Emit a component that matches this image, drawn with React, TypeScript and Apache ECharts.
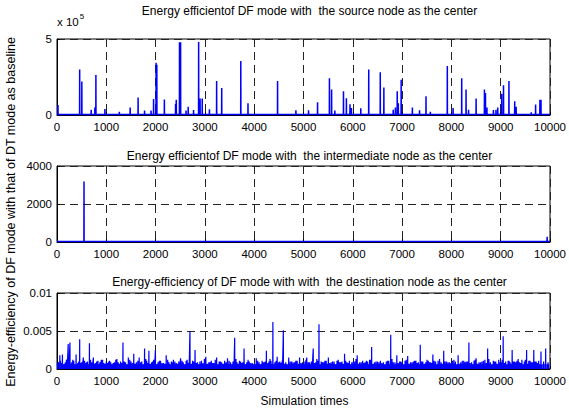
import React, { useEffect, useRef } from "react";
import * as echarts from "echarts";

const titles = [
  "Energy efficientof DF mode with  the source node as the center",
  "Energy efficientof DF mode with  the intermediate node as the center",
  "Energy-efficiency of DF mode with with  the destination node as the center",
];
const yLabel = "Energy-efficiency of DF mode with that of DT mode as baseline";
const xLabel = "Simulation times";

// Subplot 1 (values in units of 1e5)
const sourceX = [20, 460, 504, 694, 768, 789, 972, 1265, 1484, 1645, 1776, 1908, 1959, 2010, 2025, 2178, 2405, 2420, 2485, 2507, 2617, 2661, 2770, 2873, 2902, 2946, 3092, 3238, 3341, 3728, 3874, 4474, 4846, 5102, 5285, 5526, 5570, 5636, 5811, 5870, 5943, 5972, 6162, 6323, 6557, 6630, 6820, 6864, 6901, 6923, 6981, 7208, 7354, 7485, 7573, 7917, 8034, 8209, 8297, 8348, 8501, 8670, 8691, 8721, 8852, 8904, 8940, 9020, 9057, 9167, 9284, 9313, 9620, 9708, 9795, 9817];
const sourceY = [0.66, 2.99, 2.21, 0.35, 0.49, 2.63, 0.4, 0.22, 0.5, 1.15, 0.29, 0.29, 1.06, 3.43, 3.3, 1.02, 0.73, 1.0, 4.78, 4.78, 0.29, 0.55, 0.33, 4.8, 1.08, 1.08, 0.38, 2.23, 1.77, 3.56, 0.77, 2.23, 0.31, 0.31, 0.84, 2.41, 1.68, 0.3, 1.57, 1.1, 0.71, 0.46, 0.44, 2.99, 2.81, 1.81, 0.35, 0.5, 1.57, 0.77, 2.32, 0.5, 0.31, 1.24, 0.22, 3.23, 0.46, 2.41, 1.68, 0.35, 1.08, 1.68, 1.44, 0.5, 0.33, 0.35, 0.5, 1.39, 1.95, 2.23, 0.91, 0.55, 0.18, 0.69, 1.0, 1.0];
const sourceFloor = 0.03;

// Subplot 2
const interX = [548, 5540, 9942];
const interY = [3180, 40, 280];
const interFloor = 30;

// Subplot 3 — main spikes
const destX = [30, 58, 85, 110, 150, 190, 227, 263, 300, 340, 387, 420, 460, 500, 534, 580, 620, 658, 700, 738, 780, 830, 870, 900, 950, 1000, 1045, 1090, 1140, 1192, 1240, 1290, 1338, 1390, 1447, 1500, 1557, 1610, 1667, 1720, 1776, 1820, 1864, 1920, 1960, 1996, 2050, 2100, 2160, 2215, 2270, 2320, 2361, 2420, 2470, 2507, 2560, 2620, 2660, 2697, 2750, 2800, 2850, 2900, 2960, 3019, 3080, 3130, 3180, 3238, 3290, 3340, 3400, 3458, 3520, 3570, 3604, 3650, 3700, 3750, 3794, 3850, 3900, 3960, 4042, 4100, 4160, 4200, 4247, 4300, 4340, 4379, 4420, 4466, 4520, 4560, 4591, 4640, 4700, 4760, 4820, 4870, 4920, 4980, 5030, 5066, 5120, 5160, 5197, 5250, 5290, 5314, 5360, 5410, 5460, 5504, 5560, 5620, 5680, 5730, 5780, 5833, 5880, 5930, 5980, 6040, 6089, 6140, 6200, 6250, 6300, 6340, 6382, 6440, 6500, 6560, 6620, 6680, 6730, 6769, 6820, 6893, 6950, 7000, 7060, 7113, 7170, 7230, 7280, 7330, 7368, 7420, 7480, 7530, 7580, 7624, 7680, 7730, 7790, 7844, 7900, 7960, 8020, 8080, 8136, 8190, 8250, 8300, 8355, 8410, 8460, 8501, 8560, 8620, 8680, 8735, 8790, 8850, 8900, 8960, 9010, 9050, 9100, 9150, 9190, 9232, 9280, 9330, 9380, 9430, 9480, 9525, 9570, 9620, 9671, 9720, 9770, 9817, 9870, 9912, 9960];
const destY = [0.0009, 0.0018, 0.0008, 0.0019, 0.0007, 0.0012, 0.0033, 0.0035, 0.0009, 0.0011, 0.0019, 0.0008, 0.0039, 0.0009, 0.0015, 0.0008, 0.001, 0.0034, 0.0009, 0.0015, 0.0008, 0.0011, 0.0009, 0.0012, 0.0008, 0.001, 0.001, 0.0009, 0.0008, 0.0012, 0.0009, 0.001, 0.0035, 0.0009, 0.0015, 0.001, 0.002, 0.0009, 0.0015, 0.001, 0.0027, 0.0011, 0.0024, 0.0009, 0.0012, 0.0025, 0.0009, 0.0011, 0.0008, 0.0018, 0.0009, 0.001, 0.0012, 0.0008, 0.001, 0.0014, 0.0009, 0.0011, 0.0008, 0.005, 0.0011, 0.0025, 0.0009, 0.001, 0.0008, 0.0016, 0.0009, 0.0011, 0.0008, 0.0015, 0.001, 0.0009, 0.0011, 0.0014, 0.0009, 0.001, 0.0041, 0.0009, 0.0011, 0.0008, 0.0027, 0.0009, 0.001, 0.0008, 0.0014, 0.0009, 0.0011, 0.0009, 0.0024, 0.001, 0.0011, 0.0062, 0.0009, 0.0016, 0.001, 0.0009, 0.0051, 0.0009, 0.0015, 0.001, 0.0009, 0.0011, 0.0015, 0.0009, 0.001, 0.0015, 0.0009, 0.001, 0.0027, 0.0009, 0.0011, 0.0059, 0.001, 0.0009, 0.0011, 0.0015, 0.0009, 0.001, 0.0011, 0.0009, 0.001, 0.002, 0.0009, 0.0011, 0.0009, 0.001, 0.0018, 0.0009, 0.0011, 0.0009, 0.001, 0.0012, 0.0029, 0.0009, 0.001, 0.0011, 0.0009, 0.001, 0.0011, 0.0045, 0.0009, 0.0018, 0.001, 0.0009, 0.0011, 0.0017, 0.0009, 0.001, 0.0011, 0.0009, 0.0032, 0.001, 0.0009, 0.0011, 0.0009, 0.0019, 0.001, 0.0011, 0.0009, 0.0024, 0.001, 0.0009, 0.0011, 0.001, 0.0018, 0.0009, 0.0011, 0.001, 0.0035, 0.0009, 0.0011, 0.0014, 0.0009, 0.001, 0.0012, 0.0027, 0.0009, 0.0011, 0.001, 0.0012, 0.0009, 0.0043, 0.001, 0.0011, 0.0009, 0.0025, 0.001, 0.0011, 0.0009, 0.0012, 0.001, 0.0025, 0.0011, 0.0009, 0.0025, 0.001, 0.0011, 0.0023, 0.001, 0.0027, 0.0009];

// Subplot 3 — minor spikes between the main ones
const destMinorX = [15, 70, 130, 170, 210, 245, 280, 320, 365, 440, 480, 517, 560, 600, 640, 680, 720, 760, 805, 850, 885, 925, 975, 1020, 1068, 1115, 1165, 1215, 1265, 1315, 1365, 1420, 1475, 1530, 1585, 1640, 1695, 1750, 1800, 1845, 1890, 1940, 1980, 2025, 2075, 2130, 2190, 2245, 2295, 2340, 2390, 2445, 2490, 2535, 2590, 2640, 2680, 2725, 2775, 2825, 2875, 2930, 2990, 3050, 3105, 3155, 3210, 3265, 3315, 3370, 3430, 3490, 3545, 3590, 3630, 3675, 3725, 3770, 3820, 3875, 3930, 4000, 4070, 4130, 4180, 4225, 4275, 4320, 4360, 4400, 4445, 4495, 4540, 4575, 4615, 4670, 4730, 4790, 4845, 4895, 4950, 5005, 5050, 5095, 5140, 5180, 5225, 5270, 5340, 5385, 5435, 5480, 5530, 5590, 5650, 5705, 5755, 5805, 5855, 5905, 5955, 6010, 6065, 6115, 6170, 6225, 6275, 6320, 6360, 6410, 6470, 6530, 6590, 6650, 6705, 6750, 6795, 6855, 6920, 6975, 7030, 7085, 7140, 7200, 7255, 7305, 7350, 7395, 7450, 7505, 7555, 7600, 7650, 7705, 7760, 7815, 7870, 7930, 7990, 8050, 8108, 8163, 8220, 8275, 8328, 8380, 8435, 8480, 8530, 8590, 8650, 8708, 8760, 8820, 8875, 8930, 8985, 9030, 9075, 9125, 9170, 9210, 9255, 9305, 9355, 9405, 9455, 9500, 9548, 9595, 9645, 9695, 9745, 9795, 9845, 9890, 9935, 9985];
const destMinorY = [0.0007, 0.0011, 0.0006, 0.0009, 0.0013, 0.0008, 0.0007, 0.0012, 0.0006, 0.001, 0.0008, 0.0007, 0.0011, 0.0009, 0.0006, 0.0012, 0.0008, 0.0007, 0.001, 0.0006, 0.0009, 0.0012, 0.0007, 0.0008, 0.0011, 0.0006, 0.0009, 0.0013, 0.0007, 0.0008, 0.001, 0.0006, 0.0012, 0.0008, 0.0007, 0.0011, 0.0009, 0.0006, 0.0013, 0.0008, 0.0007, 0.001, 0.0009, 0.0006, 0.0011, 0.0008, 0.0007, 0.0012, 0.0006, 0.0009, 0.001, 0.0007, 0.0008, 0.0011, 0.0006, 0.0012, 0.0009, 0.0007, 0.001, 0.0008, 0.0006, 0.0011, 0.0013, 0.0007, 0.0009, 0.0008, 0.0012, 0.0006, 0.001, 0.0007, 0.0009, 0.0011, 0.0006, 0.0008, 0.0013, 0.0007, 0.001, 0.0009, 0.0006, 0.0012, 0.0008, 0.0007, 0.0011, 0.0006, 0.0009, 0.001, 0.0008, 0.0013, 0.0007, 0.0006, 0.0011, 0.0009, 0.0008, 0.0012, 0.0007, 0.0006, 0.001, 0.0009, 0.0011, 0.0007, 0.0008, 0.0006, 0.0012, 0.0009, 0.0007, 0.001, 0.0008, 0.0013, 0.0006, 0.0009, 0.0011, 0.0007, 0.0008, 0.001, 0.0006, 0.0012, 0.0009, 0.0007, 0.0011, 0.0008, 0.0006, 0.001, 0.0013, 0.0007, 0.0009, 0.0008, 0.0011, 0.0006, 0.0012, 0.0007, 0.001, 0.0009, 0.0008, 0.0006, 0.0011, 0.0007, 0.0013, 0.0009, 0.0008, 0.001, 0.0006, 0.0012, 0.0007, 0.0009, 0.0011, 0.0008, 0.0006, 0.001, 0.0007, 0.0012, 0.0009, 0.0008, 0.0011, 0.0006, 0.0013, 0.0007, 0.001, 0.0009, 0.0008, 0.0012, 0.0006, 0.0007, 0.0011, 0.0009, 0.001, 0.0008, 0.0006, 0.0012, 0.0007, 0.0009, 0.0011, 0.0008, 0.0013, 0.0006, 0.001, 0.0007, 0.0009, 0.0012, 0.0008, 0.0006, 0.0011, 0.0007, 0.001, 0.0009, 0.0013, 0.0008, 0.0006, 0.0012, 0.0007, 0.0011, 0.0009, 0.001, 0.0008, 0.0006];
const destFloor = 0.00055;

const xTickStep = 1000;
const xMax = 10000;

const BLUE = "#0000ff";
const FONT = "Liberation Sans, Arial, sans-serif";

function spikes(xs: number[], ys: number[], floor: number) {
  const idx = xs.map((_, i) => i).sort((a, b) => xs[a] - xs[b]);
  const pts: number[][] = [[0, floor]];
  idx.forEach((i) => {
    pts.push([xs[i] - 2, floor], [xs[i], ys[i]], [xs[i] + 2, floor]);
  });
  pts.push([xMax, floor]);
  return pts;
}

const gridTops = [39, 166, 293];
const titleTops = [0, 145, 271];
const gridH = 76;

export default function App() {
  const ref = useRef<HTMLDivElement>(null);
  useEffect(() => {
    if (!ref.current) return;
    const chart = echarts.init(ref.current, undefined, { renderer: "svg" });
    const dash = [8, 5];
    const plain = (v: number) => String(v);
    const xAxisBase = (gi: number) => ({
      type: "value",
      gridIndex: gi,
      min: 0,
      max: xMax,
      interval: xTickStep,
      axisLine: { show: true, lineStyle: { color: "#000", width: 1 } },
      axisTick: { show: true, inside: true, length: 3, lineStyle: { color: "#000" } },
      axisLabel: { color: "#000", fontSize: 11.5, fontFamily: FONT, margin: 6, formatter: plain },
      splitLine: { show: true, lineStyle: { color: "#222", width: 1, type: dash } },
    });
    const yAxisBase = (gi: number, max: number, interval: number) => ({
      type: "value",
      gridIndex: gi,
      min: 0,
      max,
      interval,
      axisLine: { show: true, lineStyle: { color: "#000", width: 1 } },
      axisTick: { show: true, inside: true, length: 3, lineStyle: { color: "#000" } },
      axisLabel: { color: "#000", fontSize: 11.5, fontFamily: FONT, margin: 5, formatter: plain },
      splitLine: { show: true, lineStyle: { color: "#222", width: 1, type: dash } },
    });
    const option: any = {
      animation: false,
      backgroundColor: "#fff",
      title: titles.map((t, i) => ({
        text: t,
        left: 304.5,
        textAlign: "center",
        top: titleTops[i],
        textStyle: { fontSize: 12, fontWeight: "normal", color: "#000", fontFamily: FONT },
      })),
      grid: gridTops.map((t) => ({
        left: 57,
        right: 17,
        top: t,
        height: gridH,
        show: true,
        borderColor: "#000",
        borderWidth: 1,
        backgroundColor: "transparent",
      })),
      xAxis: [xAxisBase(0), xAxisBase(1), xAxisBase(2)],
      yAxis: [yAxisBase(0, 5, 5), yAxisBase(1, 4000, 2000), yAxisBase(2, 0.01, 0.005)],
      series: [
        {
          type: "line",
          xAxisIndex: 0,
          yAxisIndex: 0,
          data: spikes(sourceX, sourceY, sourceFloor),
          showSymbol: false,
          lineStyle: { color: BLUE, width: 1.5 },
          itemStyle: { color: BLUE },
        },
        {
          type: "line",
          xAxisIndex: 1,
          yAxisIndex: 1,
          data: spikes(interX, interY, interFloor),
          showSymbol: false,
          lineStyle: { color: BLUE, width: 1.5 },
          itemStyle: { color: BLUE },
        },
        {
          type: "line",
          xAxisIndex: 2,
          yAxisIndex: 2,
          data: spikes(destX.concat(destMinorX), destY.concat(destMinorY), destFloor),
          showSymbol: false,
          lineStyle: { color: BLUE, width: 1.2 },
          itemStyle: { color: BLUE },
          areaStyle: { color: BLUE, opacity: 1 },
        },
      ],
      graphic: [
        {
          type: "text",
          x: 57,
          y: 12,
          style: {
            text: "{a|x 10}{b|5}",
            fill: "#000",
            rich: {
              a: { fontSize: 11.5, fontFamily: FONT, fill: "#000", verticalAlign: "bottom" },
              b: { fontSize: 8, fontFamily: FONT, fill: "#000", verticalAlign: "top", padding: [0, 0, 8, 1] },
            },
          },
        },
        {
          type: "text",
          x: 11,
          y: 212,
          rotation: Math.PI / 2,
          style: {
            text: yLabel,
            fontSize: 12.5,
            fontFamily: FONT,
            fill: "#000",
            textAlign: "center",
            textVerticalAlign: "middle",
          },
        },
        {
          type: "text",
          x: 304.5,
          y: 401,
          style: {
            text: xLabel,
            fontSize: 12,
            fontFamily: FONT,
            fill: "#000",
            textAlign: "center",
            textVerticalAlign: "middle",
          },
        },
      ],
    };
    chart.setOption(option);
    return () => chart.dispose();
  }, []);
  return <div ref={ref} style={{ width: 569, height: 413, position: "absolute", left: 0, top: 0 }} />;
}
